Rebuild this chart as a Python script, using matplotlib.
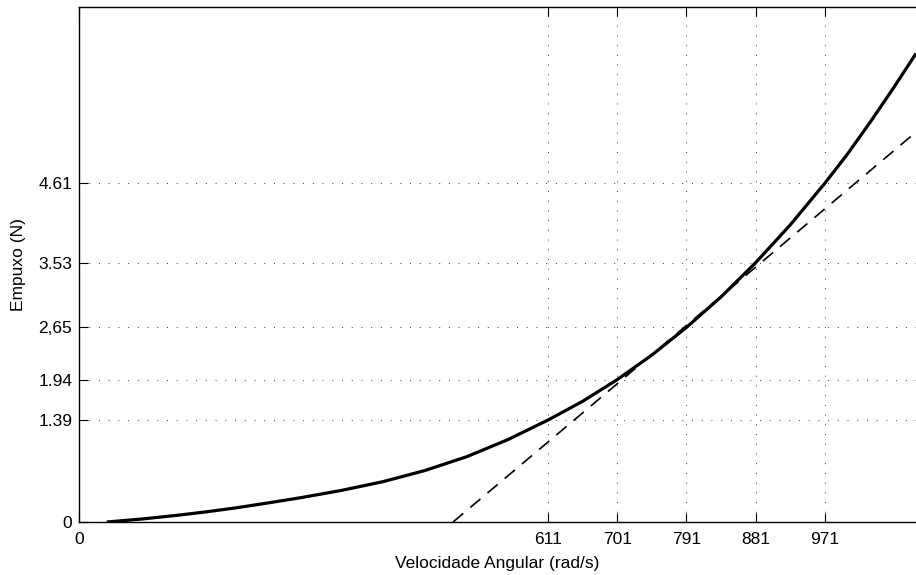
import matplotlib
matplotlib.use("Agg")
import matplotlib.pyplot as plt

# Thrust curve
omega = [36, 83, 130, 166, 203, 245, 288, 342, 396, 450, 505, 558, 611,
         656, 701, 746, 791, 836, 881, 926, 971, 1000, 1030, 1060, 1090]
thrust = [0.0, 0.042, 0.094, 0.139, 0.191, 0.258, 0.33, 0.431, 0.55, 0.70,
          0.89, 1.12, 1.39, 1.645, 1.94, 2.274, 2.65, 3.065, 3.53, 4.043,
          4.61, 5.00, 5.44, 5.90, 6.38]

# Linearization (dashed line) endpoints
lin_omega = [487, 1090]
lin_thrust = [0.0, 5.31]

xticks = [0, 611, 701, 791, 881, 971]
xticklabels = ["0", "611", "701", "791", "881", "971"]
yticks = [0, 1.39, 1.94, 2.65, 3.53, 4.61]
yticklabels = ["0", "1.39", "1.94", "2,65", "3.53", "4.61"]

plt.rcParams['font.family'] = ['Liberation Sans', 'DejaVu Sans']

fig = plt.figure(figsize=(9.16, 5.75), dpi=100)
ax = fig.add_axes([79.2/916, 53/575, 1 - 79.2/916, (522 - 6.5)/575])

ax.plot(omega, thrust, color='black', lw=2.3, solid_capstyle='butt',
        solid_joinstyle='round')
ax.plot(lin_omega, lin_thrust, color='black', lw=1.2, dashes=(8, 5.5))

ax.set_xlim(0, 1090)
ax.set_ylim(0, 7.02)
ax.set_xticks(xticks)
ax.set_xticklabels(xticklabels)
ax.set_yticks(yticks)
ax.set_yticklabels(yticklabels)

ax.tick_params(direction='in', length=6.5, width=0.8, labelsize=12.5, pad=5,
               top=True, right=False, colors='black')
ax.tick_params(axis='x', pad=7.5)
ax.grid(True, linestyle=(0, (1, 9)), color='#333333', lw=0.7)
for s in ['left', 'bottom', 'top']:
    ax.spines[s].set_linewidth(1.0)
ax.spines['right'].set_visible(False)

ax.set_xlabel("Velocidade Angular (rad/s)", fontsize=12.5, labelpad=6)
ax.set_ylabel("Empuxo (N)", fontsize=12.5, labelpad=9)

fig.savefig("out.png", dpi=100)
